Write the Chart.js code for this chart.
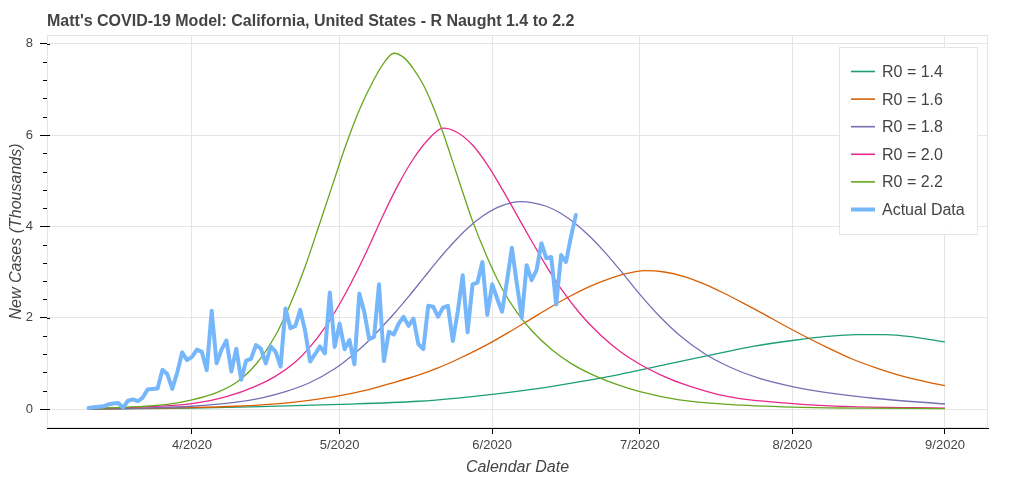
<!DOCTYPE html>
<html>
<head>
<meta charset="utf-8">
<script src="https://cdn.jsdelivr.net/npm/chart.js@4.4.1/dist/chart.umd.min.js"></script>
<style>
  html, body { margin: 0; padding: 0; background: #fff; }
  #wrap { width: 1024px; height: 482px; }
</style>
</head>
<body>
<div id="wrap"><canvas id="myChart"></canvas></div>
<script>
// x values are days counted from 1 March 2020 (day 0)
const monthDays = [31, 61, 92, 122, 153, 184];
const monthLabels = ['4/2020', '5/2020', '6/2020', '7/2020', '8/2020', '9/2020'];
const yTicks = [0, 2, 4, 6, 8];

// actual new cases (thousands), one value per day starting 11 March 2020
const actualStartDay = 10;
const actualCases = [
  0.02, 0.04, 0.05, 0.06, 0.10, 0.12, 0.13, 0.03, 0.18, 0.21,
  0.17, 0.25, 0.43, 0.44, 0.45, 0.86, 0.76, 0.44, 0.80, 1.24,
  1.07, 1.14, 1.30, 1.25, 0.85, 2.15, 1.00, 1.30, 1.50, 0.82,
  1.32, 0.64, 1.06, 1.10, 1.40, 1.32, 1.00, 1.37, 1.25, 0.93,
  2.20, 1.77, 1.82, 2.17, 1.70, 1.04, 1.20, 1.37, 1.22, 2.55,
  1.36, 1.87, 1.31, 1.51, 0.98, 2.53, 2.13, 1.53, 1.58, 2.73,
  1.05, 1.69, 1.63, 1.87, 2.02, 1.82, 1.98, 1.42, 1.31, 2.26,
  2.24, 2.02, 2.22, 2.26, 1.49, 2.13, 2.93, 1.68, 2.73, 2.77,
  3.22, 2.06, 2.73, 2.42, 2.13, 2.80, 3.53, 2.75, 2.00, 3.15,
  2.82, 3.04, 3.63, 3.30, 3.33, 2.29, 3.37, 3.22, 3.77, 4.25
];

// model curves (thousands), read at the listed days
const r14Days = [10, 31, 45, 61, 77, 85, 92, 100, 106, 112, 118, 122, 130, 138, 145, 153, 160, 166, 172, 178, 184];
const r14Vals = [0.0, 0.02, 0.05, 0.10, 0.17, 0.24, 0.32, 0.43, 0.53, 0.64, 0.76, 0.85, 1.04, 1.22, 1.37, 1.50, 1.59, 1.63, 1.63, 1.57, 1.47];

const r16Days = [10, 31, 40, 50, 60, 66, 71, 77, 81, 85, 89, 92, 96, 100, 104, 108, 112, 116, 119, 123, 127, 131, 135, 139, 143, 147, 151, 155, 160, 165, 170, 175, 180, 184];
const r16Vals = [0.0, 0.03, 0.06, 0.13, 0.27, 0.40, 0.55, 0.74, 0.90, 1.09, 1.30, 1.47, 1.72, 1.98, 2.24, 2.48, 2.69, 2.86, 2.96, 3.03, 3.00, 2.90, 2.74, 2.54, 2.32, 2.09, 1.85, 1.62, 1.35, 1.10, 0.90, 0.73, 0.60, 0.51];

const r18Days = [10, 20, 31, 40, 45, 50, 55, 60, 63, 66, 69, 72, 75, 78, 81, 84, 87, 90, 93, 96, 98, 100, 103, 106, 109, 112, 115, 118, 122, 126, 130, 135, 140, 146, 153, 160, 170, 184];
const r18Vals = [0.0, 0.02, 0.06, 0.15, 0.24, 0.38, 0.58, 0.88, 1.12, 1.40, 1.73, 2.08, 2.46, 2.86, 3.26, 3.63, 3.96, 4.22, 4.41, 4.52, 4.54, 4.52, 4.44, 4.28, 4.05, 3.76, 3.42, 3.04, 2.51, 2.03, 1.62, 1.22, 0.93, 0.68, 0.49, 0.36, 0.23, 0.11];

const r20Days = [10, 20, 31, 38, 44, 48, 52, 55, 58, 61, 64, 67, 70, 73, 76, 79, 82, 85, 88, 91, 94, 97, 100, 103, 106, 110, 114, 118, 122, 126, 130, 140, 153, 165, 184];
const r20Vals = [0.01, 0.04, 0.12, 0.27, 0.50, 0.72, 1.03, 1.36, 1.78, 2.30, 2.90, 3.57, 4.28, 4.93, 5.48, 5.90, 6.15, 6.05, 5.78, 5.35, 4.82, 4.25, 3.68, 3.13, 2.63, 2.07, 1.62, 1.26, 0.98, 0.76, 0.58, 0.27, 0.12, 0.05, 0.02];

const r22Days = [10, 20, 26, 31, 36, 40, 44, 48, 51, 54, 57, 60, 62, 65, 68, 70, 72, 74, 76, 78, 80, 82, 85, 88, 91, 94, 97, 100, 104, 108, 112, 117, 122, 130, 140, 153, 165, 184];
const r22Vals = [0.01, 0.05, 0.10, 0.20, 0.36, 0.58, 0.98, 1.62, 2.30, 3.12, 4.08, 5.05, 5.70, 6.55, 7.22, 7.58, 7.79, 7.70, 7.45, 7.10, 6.62, 6.05, 5.08, 4.12, 3.32, 2.64, 2.12, 1.72, 1.31, 1.00, 0.77, 0.55, 0.38, 0.20, 0.10, 0.04, 0.02, 0.01];

const seriesLabels = ['R0 = 1.4', 'R0 = 1.6', 'R0 = 1.8', 'R0 = 2.0', 'R0 = 2.2', 'Actual Data'];
const seriesColors = ['#1b9e77', '#d95f02', '#7570b3', '#e7298a', '#66a61e', '#76b7fb'];

const FONT = "'Liberation Sans', Arial, Helvetica, sans-serif";
const TEXT = '#444444';
const GRID = '#e5e5e5';

const pts = (days, vals) => days.map((d, i) => ({ x: d, y: vals[i] }));
const actualPts = actualCases.map((v, i) => ({ x: actualStartDay + i, y: v }));

const modelSets = [
  [r14Days, r14Vals], [r16Days, r16Vals], [r18Days, r18Vals], [r20Days, r20Vals], [r22Days, r22Vals]
].map(([d, v], i) => ({
  label: seriesLabels[i],
  data: pts(d, v),
  borderColor: seriesColors[i],
  backgroundColor: seriesColors[i],
  borderWidth: 1.3,
  cubicInterpolationMode: 'monotone',
  order: 5 - i,
  fill: false
}));

const datasets = modelSets.concat([{
  label: seriesLabels[5],
  data: actualPts,
  borderColor: seriesColors[5],
  backgroundColor: seriesColors[5],
  borderWidth: 4,
  tension: 0,
  borderJoinStyle: 'round',
  borderCapStyle: 'round',
  order: 0,
  fill: false
}]);

// plot frame, minor ticks, title and legend box
const extras = {
  id: 'extras',
  beforeDatasetsDraw(chart) {
    const { ctx, chartArea: a } = chart;
    ctx.save();
    ctx.strokeStyle = GRID;
    ctx.lineWidth = 1;
    ctx.strokeRect(a.left + 0.5, a.top + 0.5, a.right - a.left - 1, a.bottom - a.top - 1);
    ctx.restore();
  },
  afterDraw(chart) {
    const { ctx, chartArea: a, scales } = chart;
    const y = scales.y;
    ctx.save();
    ctx.strokeStyle = '#000';
    ctx.lineWidth = 1;
    ctx.beginPath();
    for (let v = 0; v <= 8.01; v += 0.4) {
      const py = Math.round(y.getPixelForValue(v)) + 0.5;
      const isMajor = Math.abs(v / 2 - Math.round(v / 2)) < 0.01;
      if (isMajor) {
        ctx.moveTo(a.left, py); ctx.lineTo(a.left + 3, py);
      } else {
        ctx.moveTo(a.left - 4, py); ctx.lineTo(a.left, py);
      }
    }
    ctx.stroke();

    // title
    ctx.fillStyle = TEXT;
    ctx.font = 'bold 16px ' + FONT;
    ctx.textBaseline = 'alphabetic';
    ctx.textAlign = 'left';
    ctx.fillText("Matt's COVID-19 Model: California, United States - R Naught 1.4 to 2.2", 47, 26);

    // legend
    const bx = 839, by = 47, bw = 138, bh = 187;
    ctx.fillStyle = 'rgba(255,255,255,0.95)';
    ctx.fillRect(bx, by, bw, bh);
    ctx.strokeStyle = GRID;
    ctx.strokeRect(bx + 0.5, by + 0.5, bw, bh);
    ctx.font = '16px ' + FONT;
    ctx.textBaseline = 'middle';
    chart.data.datasets.forEach((ds, i) => {
      const ry = 71.5 + i * 27.6;
      ctx.strokeStyle = ds.borderColor;
      ctx.lineWidth = ds.borderWidth > 2 ? 4 : 1.6;
      ctx.beginPath();
      ctx.moveTo(851, ry); ctx.lineTo(875, ry);
      ctx.stroke();
      ctx.fillStyle = TEXT;
      ctx.fillText(ds.label, 882, ry + 1);
    });
    ctx.restore();
  }
};

Chart.defaults.font.family = FONT;
Chart.defaults.color = TEXT;

const ctx = document.getElementById('myChart').getContext('2d');
new Chart(ctx, {
  type: 'line',
  data: { datasets: datasets },
  options: {
    responsive: true,
    maintainAspectRatio: false,
    animation: false,
    layout: { padding: { left: 0, right: 36, top: 35, bottom: 0 } },
    elements: { point: { radius: 0 } },
    plugins: {
      legend: { display: false },
      title: { display: false },
      tooltip: { enabled: false }
    },
    scales: {
      x: {
        type: 'linear',
        min: 1.54,
        max: 192.74,
        afterBuildTicks: (axis) => { axis.ticks = monthDays.map(v => ({ value: v })); },
        afterFit: (axis) => { axis.height = 54; },
        ticks: {
          autoSkip: false,
          maxRotation: 0,
          padding: 4,
          color: TEXT,
          font: { size: 13 },
          callback: (v, i) => monthLabels[i]
        },
        grid: { color: GRID, tickColor: '#000', tickLength: 6, lineWidth: 1 },
        border: { color: '#000', width: 1 },
        title: {
          display: true,
          text: 'Calendar Date',
          color: TEXT,
          font: { size: 16, style: 'italic' },
          padding: { top: 0, bottom: 5 }
        }
      },
      y: {
        type: 'linear',
        min: -0.416,
        max: 8.19,
        afterBuildTicks: (axis) => { axis.ticks = yTicks.map(v => ({ value: v })); },
        afterFit: (axis) => { axis.width = 47; },
        ticks: {
          padding: 7,
          color: TEXT,
          font: { size: 13 },
          callback: (v) => String(v)
        },
        grid: { color: GRID, tickColor: '#000', tickLength: 7, lineWidth: 1 },
        border: { color: '#000', width: 1 },
        title: {
          display: true,
          text: 'New Cases (Thousands)',
          color: TEXT,
          font: { size: 16, style: 'italic' },
          padding: { top: 7, bottom: 0 }
        }
      }
    }
  },
  plugins: [extras]
});
</script>
</body>
</html>
